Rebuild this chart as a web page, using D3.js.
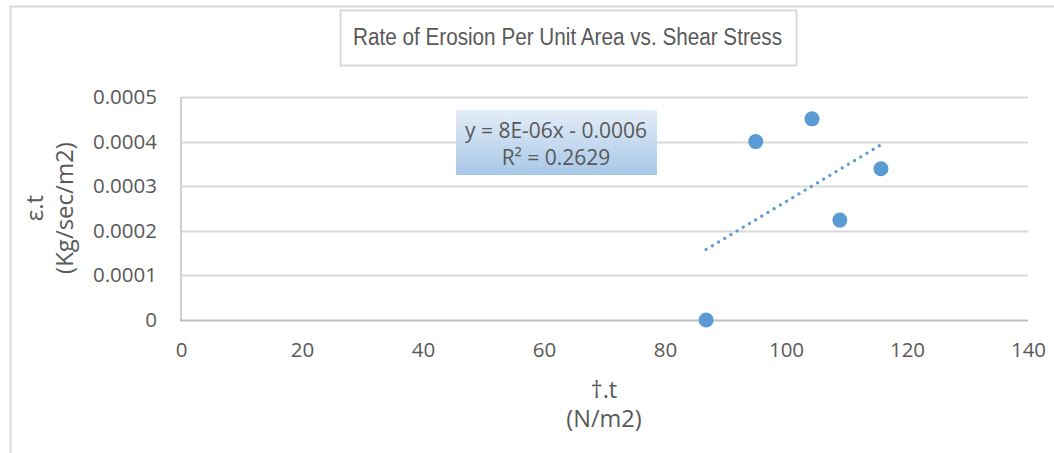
<!DOCTYPE html>
<html>
<head>
<meta charset="utf-8">
<script src="https://cdn.jsdelivr.net/npm/d3@7/dist/d3.min.js"></script>
<style>
  html, body { margin: 0; padding: 0; background: #fff; }
  svg { display: block; }
</style>
</head>
<body>
<svg id="chart" width="1054" height="453"></svg>
<script>
// Measured samples: shear stress (N/m2) vs erosion rate per unit area (Kg/sec/m2)
const shearStress = [86.8, 95.0, 104.3, 108.9, 115.7];
const erosionRate = [0, 0.0004, 0.000451, 0.000224, 0.000339];

const xTicks = [0, 20, 40, 60, 80, 100, 120, 140];
const yTicks = [0, 0.0001, 0.0002, 0.0003, 0.0004, 0.0005];
const yTickLabels = ["0", "0.0001", "0.0002", "0.0003", "0.0004", "0.0005"];

const titleText = "Rate of Erosion Per Unit Area vs. Shear Stress";
const xTitle = ["\u2020.t", "(N/m2)"];
const yTitle = ["\u03b5.t", "(Kg/sec/m2)"];
const equationLines = ["y = 8E-06x - 0.0006", "R\u00b2 = 0.2629"];

const blue = "#5b9bd5";
const textGray = "#595959";
const labelFont = "'Open Sans', 'Noto Sans', sans-serif";

const svg = d3.select("#chart");

const x = d3.scaleLinear().domain([0, 140]).range([181, 1028]);
const y = d3.scaleLinear().domain([0, 0.0005]).range([320, 97]);

// Outer chart frame (top and left edges)
svg.append("path")
  .attr("d", "M10.5,453 L10.5,6.5 L1054,6.5")
  .attr("fill", "none")
  .attr("stroke", "#d9d9d9")
  .attr("stroke-width", 2);

// Horizontal gridlines
svg.append("g")
  .selectAll("line")
  .data(yTicks.slice(1))
  .join("line")
  .attr("x1", x(0)).attr("x2", x(140))
  .attr("y1", d => Math.round(y(d)) + 0.5)
  .attr("y2", d => Math.round(y(d)) + 0.5)
  .attr("stroke", "#d9d9d9")
  .attr("stroke-width", 2);

// Left edge of the plot area
svg.append("line")
  .attr("x1", x(0)).attr("x2", x(0))
  .attr("y1", y(0.0005)).attr("y2", y(0))
  .attr("stroke", "#d0d0d0")
  .attr("stroke-width", 2);

// Horizontal axis line at zero
svg.append("line")
  .attr("x1", x(0) - 1).attr("x2", x(140))
  .attr("y1", y(0) + 0.5).attr("y2", y(0) + 0.5)
  .attr("stroke", "#bfbfbf")
  .attr("stroke-width", 2);

// X axis tick labels
const xAxis = d3.axisBottom(x).tickValues(xTicks).tickSize(0).tickPadding(0)
  .tickFormat(d3.format("d"));
const gx = svg.append("g").attr("transform", `translate(0,${y(0) + 22})`).call(xAxis);
gx.select(".domain").remove();
gx.selectAll("text")
  .attr("dy", "0.71em")
  .attr("y", 0)
  .style("font-family", labelFont)
  .style("font-size", "20.5px")
  .attr("fill", textGray);

// Y axis tick labels
const yAxis = d3.axisLeft(y).tickValues(yTicks).tickSize(0).tickPadding(0)
  .tickFormat((d, i) => yTickLabels[i]);
const gy = svg.append("g").attr("transform", `translate(157,0)`).call(yAxis);
gy.select(".domain").remove();
gy.selectAll("text")
  .attr("x", 0)
  .style("font-family", labelFont)
  .style("font-size", "20.5px")
  .attr("fill", textGray);

// Least-squares trend line over the span of the data
const n = shearStress.length;
const mx = d3.mean(shearStress), my = d3.mean(erosionRate);
let sxy = 0, sxx = 0;
for (let i = 0; i < n; i++) {
  sxy += (shearStress[i] - mx) * (erosionRate[i] - my);
  sxx += (shearStress[i] - mx) ** 2;
}
const slope = sxy / sxx;
const intercept = my - slope * mx;
const xExtent = d3.extent(shearStress);
const trend = xExtent.map(v => [v, intercept + slope * v]);

svg.append("path")
  .datum(trend)
  .attr("d", d3.line().x(d => x(d[0])).y(d => y(d[1])))
  .attr("fill", "none")
  .attr("stroke", blue)
  .attr("stroke-width", 3.2)
  .attr("stroke-linecap", "round")
  .attr("stroke-dasharray", "0.01 7.2");

// Data markers
svg.append("g")
  .selectAll("circle")
  .data(shearStress.map((v, i) => [v, erosionRate[i]]))
  .join("circle")
  .attr("cx", d => x(d[0]))
  .attr("cy", d => y(d[1]))
  .attr("r", 7.5)
  .attr("fill", blue);

// Trend line equation label
const defs = svg.append("defs");
const grad = defs.append("linearGradient")
  .attr("id", "eqFill").attr("x1", 0).attr("y1", 0).attr("x2", 0).attr("y2", 1);
grad.append("stop").attr("offset", "0%").attr("stop-color", "#e4edf8");
grad.append("stop").attr("offset", "100%").attr("stop-color", "#a8c8e8");

svg.append("rect")
  .attr("x", 456).attr("y", 110)
  .attr("width", 201).attr("height", 65)
  .attr("fill", "url(#eqFill)");

svg.append("g")
  .selectAll("text")
  .data(equationLines)
  .join("text")
  .attr("x", 556)
  .attr("y", (d, i) => 138 + i * 27)
  .attr("text-anchor", "middle")
  .style("font-family", labelFont)
  .style("font-size", "21px")
  .attr("fill", textGray)
  .text(d => d);

// Chart title in a bordered box
svg.append("rect")
  .attr("x", 340.5).attr("y", 10.5)
  .attr("width", 456).attr("height", 55)
  .attr("fill", "#fff")
  .attr("stroke", "#d9d9d9")
  .attr("stroke-width", 2);

svg.append("text")
  .attr("x", 353)
  .attr("y", 45)
  .attr("textLength", 429)
  .attr("lengthAdjust", "spacingAndGlyphs")
  .style("font-family", "'Liberation Sans', Arial, sans-serif")
  .style("font-size", "23px")
  .attr("fill", textGray)
  .text(titleText);

// X axis title
svg.append("g")
  .selectAll("text")
  .data(xTitle)
  .join("text")
  .attr("x", 604)
  .attr("y", (d, i) => 398 + i * 29)
  .attr("text-anchor", "middle")
  .style("font-family", labelFont)
  .style("font-size", "23.5px")
  .attr("fill", textGray)
  .text(d => d);

// Y axis title (rotated, two lines)
svg.append("g")
  .attr("transform", "translate(0,208) rotate(-90)")
  .selectAll("text")
  .data(yTitle)
  .join("text")
  .attr("x", 0)
  .attr("y", (d, i) => 43 + i * 30)
  .attr("text-anchor", "middle")
  .style("font-family", labelFont)
  .style("font-size", "24px")
  .attr("fill", textGray)
  .text(d => d);
</script>
</body>
</html>
